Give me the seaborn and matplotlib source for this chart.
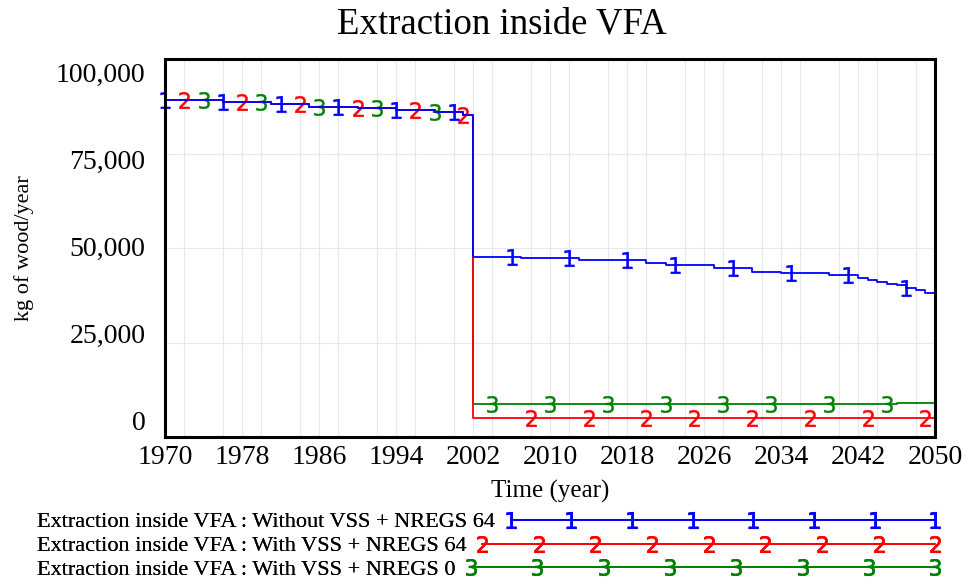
import numpy as np
import pandas as pd
import seaborn as sns
import matplotlib.pyplot as plt
import matplotlib.transforms as mtransforms
from matplotlib.lines import Line2D
from matplotlib.legend_handler import HandlerLine2D
from matplotlib.ticker import StrMethodFormatter, MultipleLocator

sns.set_style('white')
plt.rcParams['font.family'] = ['Liberation Serif', 'DejaVu Serif']
plt.rcParams['text.color'] = 'black'
plt.rcParams['axes.labelcolor'] = 'black'
plt.rcParams['xtick.color'] = 'black'
plt.rcParams['ytick.color'] = 'black'

years = list(range(1970, 2051))

# shared history 1970-2001 (all three runs identical)
history = ([89150] * 6 + [88550] * 5 + [88000] * 4 + [87400] * 5 +
           [86950] * 4 + [86500] * 4 + [85900] * 3 + [85200])

# 2002-2050 per run
without_vss_64 = ([47700] * 5 + [47300] * 6 + [46800] * 7 + [45900] * 2 +
                  [45500] * 5 + [44600] * 4 + [43700] * 3 + [43300] * 5 +
                  [42900] * 3 + [42000, 41500, 41100, 40600, 40200, 39400,
                                 38900, 38100, 37800])
with_vss_64 = [4900] * 49
with_vss_0 = [8700] * 44 + [9100] * 5

series = {
    'Extraction inside VFA : Without VSS + NREGS 64': history + without_vss_64,
    'Extraction inside VFA : With VSS + NREGS 64': history + with_vss_64,
    'Extraction inside VFA : With VSS + NREGS 0': history + with_vss_0,
}
colors = ['#0000ff', '#ff0000', '#008000']
digit_markers = ['$1$', '$2$', '$3$']
marker_years = [
    [1970, 1976, 1982, 1988, 1994, 2000, 2006, 2012, 2018, 2023, 2029, 2035,
     2041, 2047],
    [1972, 1978, 1984, 1990, 1996, 2001, 2008, 2014, 2020, 2025, 2031, 2037,
     2043, 2049],
    [1974, 1980, 1986, 1992, 1998, 2004, 2010, 2016, 2022, 2028, 2033, 2039,
     2045],
]
legend_points = [8, 9, 8]

fig = plt.figure(figsize=(9.68, 5.81), dpi=100)
ax = fig.add_axes([165 / 968, 1 - 437 / 581, 770 / 968, 378 / 581])

names = list(series.keys())
# draw green first, blue last so blue sits on top
for i in [2, 1, 0]:
    d = pd.DataFrame({'Time': years, 'value': series[names[i]]})
    idx = [years.index(y) for y in marker_years[i]]
    sns.lineplot(x='Time', y='value', data=d, ax=ax, color=colors[i],
                 drawstyle='steps-post', linewidth=1.3, clip_on=False,
                 marker=digit_markers[i], markevery=idx, markersize=12,
                 markeredgewidth=0.3, markeredgecolor=colors[i])

ax.set_xlim(1970, 2050)
ax.set_ylim(0, 100000)
ax.set_xticks(range(1970, 2051, 8))
ax.xaxis.set_minor_locator(MultipleLocator(4))
ax.set_yticks(range(0, 100001, 25000))
ax.yaxis.set_major_formatter(StrMethodFormatter('{x:,.0f}'))
ax.grid(True, which='both', color='#e8e8e8', linewidth=0.8)
ax.tick_params(axis='both', which='both', length=0, labelsize=20)
ax.tick_params(axis='y', pad=14)
ax.tick_params(axis='x', pad=6)
for s in ax.spines.values():
    s.set_visible(True)
    s.set_color('black')
    s.set_linewidth(2.2)

# y labels sit a little inside the gridlines, as in the original
fig.canvas.draw()
shifts_px = [16, 9.5, 2, -5.5, -13]
for lab, dy in zip(ax.get_yticklabels(), shifts_px):
    lab.set_transform(lab.get_transform() +
                      mtransforms.ScaledTranslation(0, dy / 100,
                                                    fig.dpi_scale_trans))

ax.set_xlabel('Time (year)', fontsize=18, labelpad=7)
ax.set_ylabel('kg of wood/year', fontsize=16, labelpad=16)
fig.text(502 / 968, 1 - 24 / 581, 'Extraction inside VFA', fontsize=26.5,
         ha='center', va='center')

# legend rows: text left aligned, line running to the right edge
leg_fs = 16
fs_px = leg_fs * fig.dpi / 72
renderer = fig.canvas.get_renderer()
row_y = [522, 546, 570]
for i in range(3):
    t = fig.text(0, 0, names[i], fontsize=leg_fs)
    w = t.get_window_extent(renderer).width
    t.remove()
    hl = (942 - 37 - w - 0.4 * fs_px) / fs_px
    h = Line2D([], [], color=colors[i], linewidth=1.3,
               marker=digit_markers[i], markersize=12, markeredgewidth=0.3)
    leg = fig.legend([h], [names[i]], loc='center left',
                     bbox_to_anchor=(37 / 968, 1 - row_y[i] / 581),
                     markerfirst=False, frameon=False, fontsize=leg_fs,
                     handlelength=hl, handletextpad=0.4, borderpad=0,
                     borderaxespad=0, markerscale=1.0,
                     handler_map={h: HandlerLine2D(numpoints=legend_points[i])})
    fig.add_artist(leg)

fig.savefig('out.png', dpi=100)
